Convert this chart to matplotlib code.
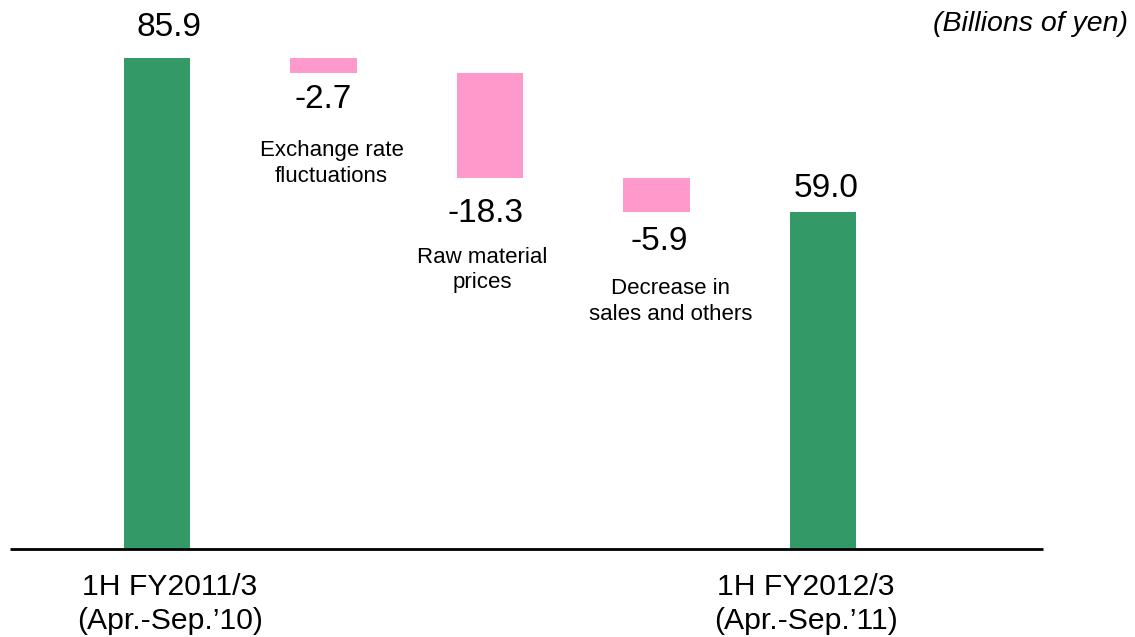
import matplotlib
matplotlib.use("Agg")
import matplotlib.pyplot as plt
import numpy as np

plt.rcParams['font.family'] = ['Liberation Sans', 'DejaVu Sans']

# data
steps = ['1H FY2011/3\n(Apr.-Sep.\u201910)', 'Exchange rate\nfluctuations',
         'Raw material\nprices', 'Decrease in\nsales and others',
         '1H FY2012/3\n(Apr.-Sep.\u201911)']
values = [85.9, -2.7, -18.3, -5.9, 59.0]
is_total = [True, False, False, False, True]
value_labels = ['85.9', '-2.7', '-18.3', '-5.9', '59.0']
unit_label = '(Billions of yen)'

green = '#339966'
pink = '#ff99cc'

fig = plt.figure(figsize=(11.35, 6.37), dpi=100)
ax = fig.add_axes([0, 0, 1, 1])

x = np.arange(len(values))
bottoms = []
heights = []
running = 0.0
for v, tot in zip(values, is_total):
    if tot:
        bottoms.append(0)
        heights.append(v)
        running = v
    else:
        bottoms.append(running + v)
        heights.append(-v)
        running = running + v

colors = [green if t else pink for t in is_total]
ax.bar(x, heights, bottom=bottoms, width=0.402, color=colors, linewidth=0)

# baseline
ax.plot([-0.883, 5.321], [0, 0], color='black', linewidth=2, solid_capstyle='butt')

# value labels (pixel offsets for placement)
val_offsets = [(12, 31), (0, -26), (-4, -35), (3, -30), (3, 23)]
for i in range(len(values)):
    if is_total[i]:
        anchor_y = bottoms[i] + heights[i]
    else:
        anchor_y = bottoms[i]
    ax.annotate(value_labels[i], (x[i], anchor_y), xytext=val_offsets[i],
                textcoords='offset pixels', ha='center', va='center', fontsize=24)

# descriptions under the change bars
desc_offsets = {1: (8, -90), 2: (-8, -92), 3: (14, -90)}
for i, off in desc_offsets.items():
    ax.annotate(steps[i], (x[i], bottoms[i]), xytext=off, textcoords='offset pixels',
                ha='center', va='center', fontsize=16, linespacing=1.3)

# category labels below baseline
cat_offsets = {0: (13, -55), 4: (-17, -55)}
for i, off in cat_offsets.items():
    ax.annotate(steps[i], (x[i], 0), xytext=off, textcoords='offset pixels',
                ha='center', va='center', fontsize=21.7, linespacing=1.25)

ax.text(0.9935, 0.962, unit_label, transform=ax.transAxes, ha='right', va='center',
        fontsize=20.5, style='italic')

ax.set_xlim(-0.943, 5.874)
ax.set_ylim(-15.40, 96.05)
ax.axis('off')

fig.savefig('out.png', dpi=100)
